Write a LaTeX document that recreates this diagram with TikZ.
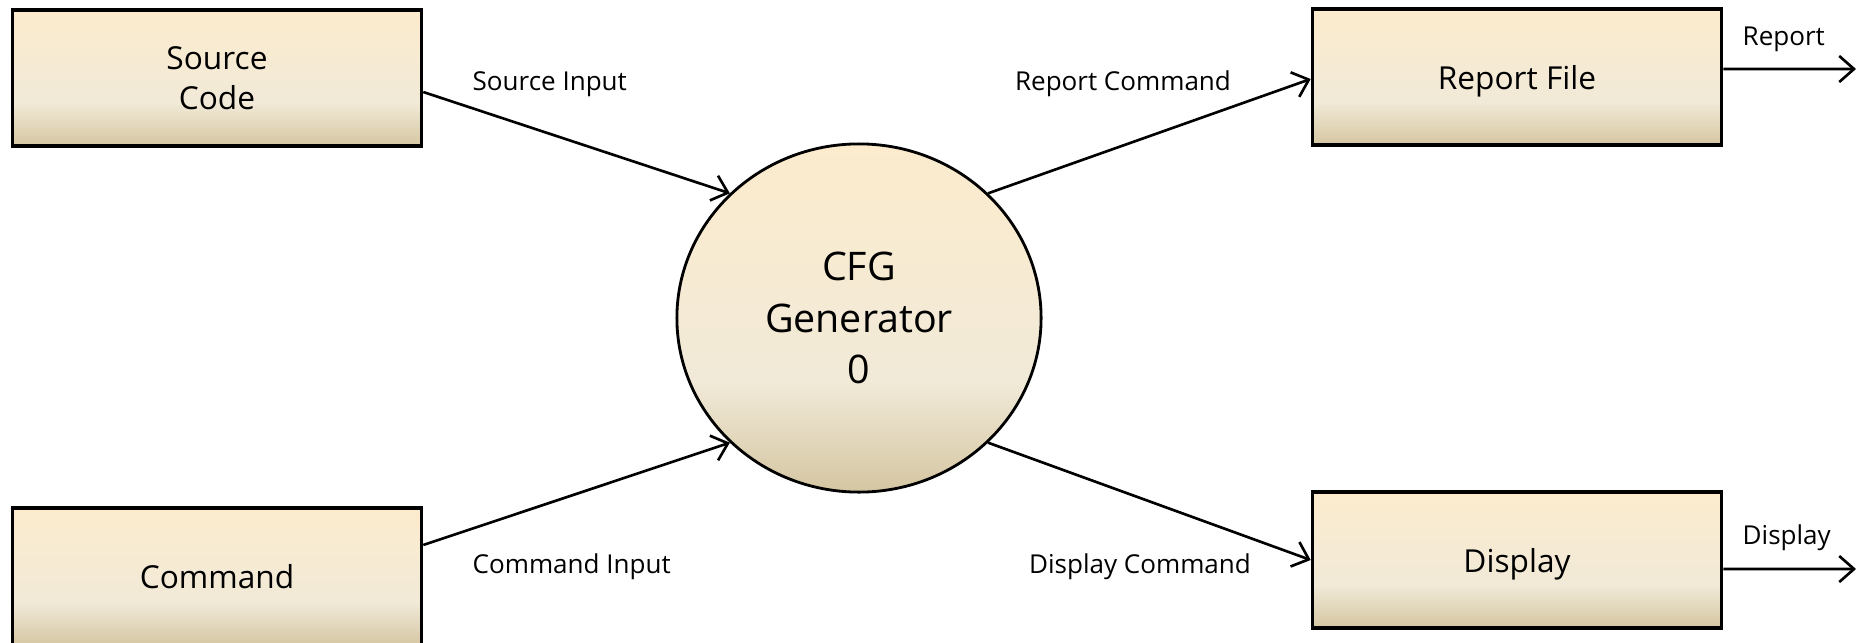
\documentclass[tikz,border=0pt]{standalone}
\usepackage{fontspec}
\setmainfont{Open Sans}
\usetikzlibrary{arrows.meta,shapes.geometric}
\definecolor{topc}{RGB}{252,235,205}
\definecolor{midc}{RGB}{241,234,216}
\definecolor{botc}{RGB}{213,198,162}
\pgfdeclareverticalshading{dfdshade}{100bp}{color(0bp)=(botc); color(25bp)=(botc); color(41bp)=(midc); color(75bp)=(topc); color(100bp)=(topc)}
\begin{document}
\begin{tikzpicture}[x=0.01cm,y=-0.01cm,
  entity/.style={draw=black, line width=0.95pt, shading=dfdshade, minimum width=4.09cm, minimum height=1.36cm, inner sep=0pt, align=center, font=\fontsize{9}{11.2}\selectfont},
  process/.style={ellipse, draw=black, line width=0.8pt, shading=dfdshade, minimum width=3.64cm, minimum height=3.48cm, inner sep=0pt, align=center, font=\fontsize{11.2}{14.6}\selectfont},
  flow/.style={-{Straight Barb[length=4.2pt,width=7.4pt]}, line width=0.75pt},
  lbl/.style={inner sep=0pt, font=\fontsize{7.4}{9}\selectfont}]
\useasboundingbox (0,0) rectangle (1869,642);

\node[entity] (src) at (217,78) {Source\\Code};
\node[entity, minimum height=1.38cm] (cmd) at (217,577) {Command};
\node[process] (cfg) at (859,318) {CFG\\Generator\\0};
\node[entity, text depth=0pt] (rep) at (1517,77) {Report File};
\node[entity, text depth=0pt] (dsp) at (1517,560) {Display};

\coordinate (repout) at (1856,69);
\coordinate (dspout) at (1856,569);

\draw[flow] ([yshift=-0.14cm]src.east) -- (cfg.136);
\draw[flow] ([yshift=0.32cm]cmd.east) -- (cfg.224);
\draw[flow] (cfg.44) -- ([yshift=-0.02cm]rep.west);
\draw[flow] (cfg.316) -- (dsp.west);
\draw[flow] ([yshift=0.08cm]rep.east) -- (repout);
\draw[flow] ([yshift=-0.09cm]dsp.east) -- (dspout);

\node[lbl, anchor=base west] (l1) at (472,90) {Source Input};
\node[lbl, anchor=base west] (l2) at (472,573) {Command Input};
\node[lbl, anchor=base] (l3) at (1123,90) {Report Command};
\node[lbl, anchor=base] (l4) at (1140,573) {Display Command};
\node[lbl, anchor=base west] (l5) at (1742,45) {Report};
\node[lbl, anchor=base west] (l6) at (1742,544) {Display};
\end{tikzpicture}
\end{document}
